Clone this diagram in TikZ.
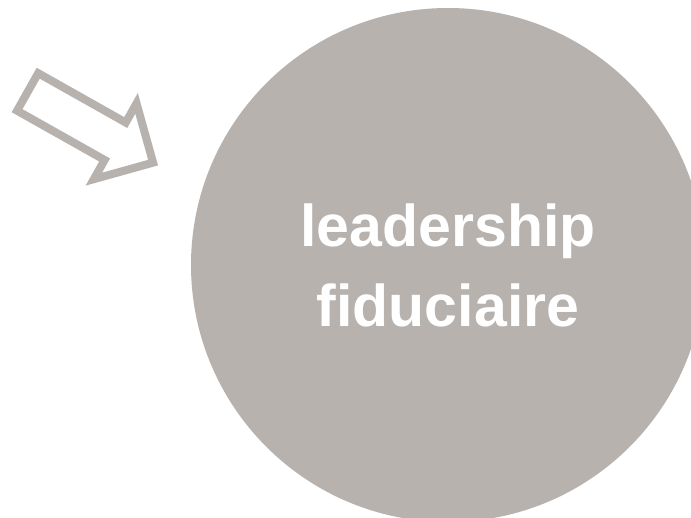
\documentclass[tikz,border=0pt]{standalone}
\usepackage{fontspec}
\setmainfont{Liberation Sans}
\usetikzlibrary{shapes.arrows}
\definecolor{stonegray}{HTML}{B7B2AE}

\begin{document}
\begin{tikzpicture}[x=1pt,y=-1pt,
  pointer/.style={single arrow, draw=stonegray, line width=8pt, minimum height=144pt, minimum width=80pt, single arrow head extend=22pt, inner xsep=0pt, inner ysep=17.5pt},
  hub/.style={circle, fill=stonegray, minimum size=514pt, inner sep=0pt, text=white, font=\bfseries\fontsize{59}{80}\selectfont, align=center}]

\useasboundingbox (0,0) rectangle (691,517);
\clip (0,0) rectangle (691,517);

\node[hub] (leader) at (448,265) {leadership\\fiduciaire};

\node[pointer, rotate=-29.4] (cue) at (81,122) {};

\end{tikzpicture}
\end{document}
